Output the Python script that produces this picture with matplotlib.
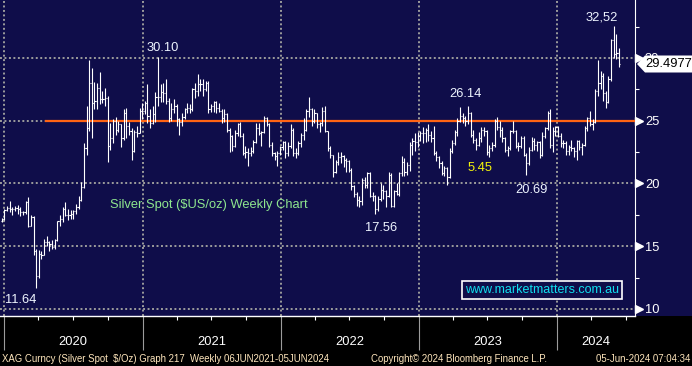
import matplotlib
matplotlib.use("Agg")
import matplotlib.pyplot as plt
import matplotlib.dates as mdates
import matplotlib.transforms as mtransforms
from matplotlib.patches import Polygon, Rectangle
import numpy as np
import pandas as pd

# Bloomberg terminal look
BG_NAVY = "#0f0d4a"
BG_BLACK = "#000000"
GRID_COLOR = "#9c9c9c"
LEVEL_COLOR = "#ff6414"
LABEL_COLOR = "#eef4ff"
TITLE_COLOR = "#8ee68e"
LOW_COLOR = "#f2f20a"
WEB_COLOR = "#10e0f0"
FOOT_COLOR = "#ffe6bc"

W, H, DPI = 692, 366, 100
PLOT_W, PLOT_H, FOOT_H = 635, 316, 50
PX_PER_DAY = 553 / 1461
FONT_SIZE = 9.3
FOOT_SIZE = 6.9

# --- weekly silver bars (week ending Friday, from 20 Dec 2019) ---
first_open = 17.00
closes = [
    17.15, 17.85,
    # 2020
    18.05, 17.95, 17.99, 18.07, 17.98, 17.73, 17.72, 18.50, 16.60, 17.30, 14.60, 12.60, 14.40,
    14.30, 15.30, 15.30, 15.20, 14.90, 15.50, 17.00, 17.20, 18.00, 17.50, 17.50, 17.60, 17.80,
    18.10, 18.70, 19.70, 22.80, 24.40, 28.00, 26.40, 26.60, 27.60, 26.70, 26.70, 26.80, 23.00,
    23.60, 25.00, 24.30, 24.70, 23.60, 25.60, 24.60, 24.20, 22.60, 24.10, 24.00, 25.80, 25.80, 26.40,
    # 2021
    25.40, 24.80, 25.50, 26.90, 26.90, 27.30, 27.20, 26.60, 25.20, 25.90, 26.20, 25.10, 24.90,
    25.30, 25.90, 26.00, 25.90, 27.50, 27.40, 27.90, 27.90, 27.50, 28.00, 25.90, 26.20, 26.50,
    26.00, 25.80, 25.20, 25.50, 24.30, 23.80, 23.00, 24.00, 24.70, 23.80, 22.40, 22.50, 22.40,
    22.60, 23.30, 24.40, 24.00, 24.10, 25.20, 24.70, 23.10, 22.40, 22.20, 22.40, 22.90, 23.30,
    # 2022
    22.40, 23.00, 24.30, 22.40, 22.40, 23.20, 23.90, 24.30, 25.80, 25.90, 25.00, 25.60, 24.70,
    24.80, 25.80, 24.20, 22.80, 22.30, 20.90, 21.70, 22.10, 22.20, 21.90, 21.80, 21.10, 19.80,
    19.20, 18.70, 18.60, 20.30, 19.90, 20.80, 19.00, 19.00, 18.00, 18.80, 19.50, 19.40, 19.00,
    20.70, 18.20, 19.40, 19.20, 20.80, 21.70, 20.90, 21.50, 23.10, 23.40, 23.30, 23.80, 24.00,
    # 2023
    24.00, 24.30, 23.90, 23.60, 22.40, 22.10, 21.60, 20.80, 21.20, 20.50, 22.60, 23.20, 24.10,
    25.00, 25.40, 25.20, 25.00, 25.60, 23.90, 23.50, 23.10, 23.60, 24.30, 24.20, 22.50, 22.80,
    23.10, 25.00, 24.50, 24.30, 23.60, 22.70, 22.80, 24.20, 24.20, 23.00, 23.00, 23.60, 22.30,
    21.60, 22.70, 23.40, 23.10, 23.30, 22.30, 23.80, 24.40, 25.60, 23.10, 24.20, 24.50, 23.80,
    # 2024
    23.20, 23.20, 22.60, 22.90, 22.80, 22.60, 23.40, 22.90, 23.10, 24.40, 25.20, 24.70, 24.90,
    27.40, 28.00, 28.60, 27.20, 26.50, 28.30, 31.40, 30.30, 30.40, 29.4977,
]
highs = [
    17.25, 17.95,
    18.20, 18.60, 18.10, 18.20, 18.30, 18.10, 17.80, 18.60, 18.90, 17.50, 17.40, 14.80, 14.70,
    14.60, 15.60, 15.80, 15.40, 15.50, 15.60, 17.00, 17.50, 18.10, 18.50, 18.00, 17.90, 17.90,
    18.40, 19.00, 20.10, 23.20, 26.20, 29.86, 29.20, 28.10, 28.00, 28.90, 27.40, 27.60, 27.00,
    24.80, 25.10, 25.30, 25.00, 24.70, 25.90, 26.00, 24.90, 24.40, 24.30, 24.60, 26.00, 26.40, 26.60,
    27.90, 25.90, 26.20, 27.30, 30.10, 27.90, 28.00, 28.30, 26.80, 26.40, 26.70, 26.30, 25.20,
    25.60, 26.00, 26.40, 26.30, 27.60, 28.00, 28.70, 28.30, 28.30, 28.20, 28.20, 26.30, 26.60,
    26.60, 26.40, 25.90, 25.90, 25.60, 24.40, 23.90, 24.30, 24.80, 24.90, 24.00, 23.00, 22.80,
    22.90, 23.50, 24.80, 24.80, 24.20, 25.40, 25.30, 24.80, 23.30, 22.50, 22.60, 23.00, 23.40,
    23.40, 23.30, 24.70, 24.40, 22.80, 23.40, 24.00, 25.20, 25.90, 26.90, 26.00, 25.90, 25.60,
    24.90, 26.10, 26.20, 24.20, 23.00, 22.30, 21.90, 22.50, 22.50, 22.30, 22.00, 21.90, 21.20,
    19.90, 19.30, 19.00, 20.40, 20.50, 20.90, 20.90, 19.30, 19.10, 19.00, 20.00, 19.90, 19.50,
    20.90, 20.80, 19.50, 20.00, 20.90, 22.20, 22.00, 21.70, 23.30, 23.60, 24.00, 24.10, 24.20,
    24.50, 24.40, 24.70, 24.20, 24.60, 22.60, 22.20, 21.80, 21.40, 21.30, 22.80, 23.50, 24.30,
    25.20, 26.10, 25.60, 25.40, 26.14, 25.70, 24.30, 23.60, 24.10, 24.50, 24.50, 24.30, 23.10,
    23.30, 25.10, 25.30, 25.00, 24.50, 23.70, 23.00, 24.30, 25.00, 24.30, 23.30, 23.80, 23.80,
    22.40, 22.90, 23.70, 23.60, 23.40, 23.40, 24.10, 24.50, 25.80, 25.90, 24.50, 24.60, 24.60,
    24.00, 23.50, 23.40, 23.10, 23.50, 22.90, 23.50, 23.50, 23.20, 24.60, 25.30, 25.80, 25.10,
    27.50, 29.80, 29.00, 28.80, 27.40, 28.60, 31.50, 32.52, 31.90, 30.80,
]
lows = [
    16.90, 17.10,
    17.80, 17.70, 17.50, 17.80, 17.60, 17.40, 17.50, 17.60, 16.50, 16.60, 14.30, 11.64, 12.50,
    14.00, 14.30, 15.00, 14.60, 14.80, 14.80, 15.40, 16.60, 16.90, 17.40, 17.10, 17.20, 17.20,
    17.60, 18.00, 18.60, 19.60, 22.30, 24.20, 23.60, 25.90, 25.90, 26.30, 26.40, 26.20, 21.70,
    22.70, 23.20, 23.90, 24.10, 22.90, 23.50, 23.60, 23.90, 21.90, 22.50, 23.70, 24.00, 25.10, 25.50,
    24.80, 24.40, 24.70, 24.90, 26.20, 26.50, 26.50, 26.30, 24.90, 25.00, 25.60, 24.60, 23.90,
    24.60, 25.10, 25.60, 25.60, 25.80, 26.80, 27.00, 27.40, 27.00, 27.40, 25.60, 25.70, 25.70,
    25.60, 25.70, 24.80, 24.90, 24.10, 22.50, 22.60, 22.90, 23.80, 23.70, 22.30, 22.00, 21.40,
    22.20, 22.40, 23.20, 23.90, 23.00, 24.00, 24.60, 22.90, 22.20, 21.90, 21.40, 22.30, 22.70,
    22.00, 22.20, 22.80, 22.20, 22.00, 22.30, 22.90, 23.50, 24.20, 25.30, 24.60, 24.80, 24.40,
    24.10, 24.60, 24.10, 22.60, 22.00, 20.50, 20.80, 21.50, 21.60, 21.30, 20.90, 20.90, 19.50,
    18.90, 18.20, 18.10, 18.30, 19.60, 19.60, 18.90, 18.60, 17.56, 17.80, 18.60, 18.80, 18.10,
    18.90, 18.10, 18.10, 19.10, 19.00, 20.60, 20.60, 20.70, 21.00, 22.30, 22.60, 22.90, 23.40,
    23.20, 23.30, 23.40, 23.30, 22.30, 21.80, 21.20, 20.70, 20.60, 19.90, 20.40, 22.40, 23.10,
    23.80, 24.90, 24.80, 24.60, 24.70, 23.70, 23.20, 22.70, 23.00, 23.30, 23.80, 22.30, 22.10,
    22.60, 22.90, 24.30, 23.70, 23.30, 22.50, 22.20, 22.70, 24.00, 22.80, 22.60, 22.80, 22.20,
    20.69, 21.50, 22.60, 22.70, 22.60, 22.00, 22.20, 23.60, 24.30, 22.80, 22.50, 23.80, 23.70,
    22.90, 22.80, 22.30, 22.30, 22.60, 22.10, 21.90, 22.70, 22.30, 23.00, 24.20, 24.60, 24.30,
    24.80, 27.00, 27.50, 26.60, 26.00, 26.40, 28.20, 30.00, 29.90, 29.30,
]

level = 25.0
years = [2020, 2021, 2022, 2023, 2024]
y_major = [10, 15, 20, 25, 30]
y_minor = [12.5, 17.5, 22.5, 27.5, 32.5]

# annotations: (text, colour, x px, y px) inside the plot box
callouts = [
    ("30.10", LABEL_COLOR, 163, 48),
    ("26.14", LABEL_COLOR, 465, 94),
    ("32,52", LABEL_COLOR, 602, 17),
    ("5.45", LOW_COLOR, 480, 168),
    ("20.69", LABEL_COLOR, 531, 190),
    ("17.56", LABEL_COLOR, 381, 228),
    ("11.64", LABEL_COLOR, 21, 300),
]

plt.rcParams["font.family"] = ["Liberation Sans", "DejaVu Sans"]

fig = plt.figure(figsize=(W / DPI, H / DPI), dpi=DPI, facecolor=BG_BLACK)
fig.add_artist(Rectangle((0, FOOT_H / H), 1, PLOT_H / H, transform=fig.transFigure,
                         facecolor=BG_NAVY, edgecolor="none", zorder=-5))
ax = fig.add_axes([0, FOOT_H / H, PLOT_W / W, PLOT_H / H])
ax.set_facecolor(BG_NAVY)

dates = pd.date_range("2019-12-20", periods=len(closes), freq="W-FRI")
c = np.array(closes)
o = np.concatenate([[first_open], c[:-1]])
hi = np.maximum(np.array(highs), np.maximum(o, c))
lo = np.minimum(np.array(lows), np.minimum(o, c))

# bars sit about six days to the right of the year lines in the original
x = mdates.date2num(dates) + 6
tick = 3.0
ax.vlines(x, lo, hi, color="white", linewidth=0.8, zorder=4)
ax.hlines(o, x - tick, x, color="white", linewidth=0.8, zorder=4)
ax.hlines(c, x, x + tick, color="white", linewidth=0.8, zorder=4)

jan1 = mdates.date2num(pd.Timestamp("2020-01-01"))
x0 = jan1 - 4 / PX_PER_DAY
x1 = jan1 + (PLOT_W - 4) / PX_PER_DAY
ax.set_xlim(x0, x1)
ax.set_ylim(9.44, 34.62)

# orange reference level
ax.axhline(level, xmin=46 / PLOT_W, xmax=1, color=LEVEL_COLOR, linewidth=1.6, zorder=3)

# grid + ticks
year_starts = [mdates.date2num(pd.Timestamp(f"{y}-01-01")) for y in years]
quarters = [mdates.date2num(pd.Timestamp(f"{y}-{m:02d}-01")) for y in years for m in (4, 7, 10)]
quarters = [q for q in quarters if q < x1]
ax.set_xticks(year_starts)
ax.set_xticks(quarters, minor=True)
ax.set_yticks(y_major)
ax.set_yticks(y_minor, minor=True)
ax.set_axisbelow(True)
ax.grid(True, which="major", color=GRID_COLOR, linestyle=(0, (1, 1.3)), linewidth=1.4)

ax.tick_params(axis="x", which="major", length=24.5, width=0.8, color=GRID_COLOR,
               labelbottom=False)
ax.tick_params(axis="x", which="minor", length=3, width=0.8, color="white")
ax.yaxis.tick_right()
ax.tick_params(axis="y", which="major", length=0, pad=7.2, labelsize=FONT_SIZE,
               labelcolor="white")
ax.tick_params(axis="y", which="minor", length=3, width=0.8, color="white")

for side in ("top", "left"):
    ax.spines[side].set_visible(False)
ax.spines["right"].set_color("white")
ax.spines["right"].set_linewidth(0.8)
ax.spines["bottom"].set_color("white")
ax.spines["bottom"].set_linewidth(1.0)

# white arrow heads at the labelled price levels
right_edge = mtransforms.blended_transform_factory(ax.transAxes, ax.transData)
ax.plot(np.full(len(y_major), 1 + 4 / PLOT_W), y_major, linestyle="none", marker=">",
        markersize=6, color="white", transform=right_edge, clip_on=False)

# year labels centred on the visible part of each year
below = mtransforms.blended_transform_factory(ax.transData, ax.transAxes)
for y, start in zip(years, year_starts):
    left = max(start, x0)
    right = min(mdates.date2num(pd.Timestamp(f"{y + 1}-01-01")), x1)
    ax.text((left + right) / 2, 1 - 342 / PLOT_H, str(y), transform=below, ha="center",
            va="center", color="white", fontsize=FONT_SIZE, clip_on=False)


def px(xp, yp):
    return xp / PLOT_W, 1 - yp / PLOT_H


for text, color, xp, yp in callouts:
    ax.text(*px(xp, yp), text, transform=ax.transAxes, ha="center", va="center",
            color=color, fontsize=FONT_SIZE, zorder=6)

ax.text(*px(110, 205), "Silver Spot ($US/oz) Weekly Chart", transform=ax.transAxes,
        ha="left", va="center", color=TITLE_COLOR, fontsize=FONT_SIZE, zorder=6)
ax.text(*px(542, 290), "www.marketmatters.com.au", transform=ax.transAxes, ha="center",
        va="center", color=WEB_COLOR, fontsize=9, zorder=6,
        bbox=dict(boxstyle="square,pad=0.25", facecolor=BG_NAVY, edgecolor="white",
                  linewidth=1.2))

# last price flag on the right axis
flag = [(637, 64), (645, 55.5), (692, 55.5), (692, 72.5), (645, 72.5)]
fig.add_artist(Polygon([(a / W, 1 - b / H) for a, b in flag], closed=True,
                       transform=fig.transFigure, facecolor="white", edgecolor="none",
                       zorder=5))
fig.text(645 / W, 1 - 64 / H, f"{closes[-1]:.4f}", ha="left", va="center",
         color="black", fontsize=FONT_SIZE, zorder=6)

# footer
foot_y = 1 - 359 / H
fig.text(2 / W, foot_y, "XAG Curncy (Silver Spot  $/Oz) Graph 217  Weekly 06JUN2021-05JUN2024",
         ha="left", va="center", color=FOOT_COLOR, fontsize=FOOT_SIZE)
fig.text(371 / W, foot_y, "Copyright\u00a9 2024 Bloomberg Finance L.P.", ha="left",
         va="center", color=FOOT_COLOR, fontsize=FOOT_SIZE)
fig.text(690 / W, foot_y, "05-Jun-2024 07:04:34", ha="right", va="center",
         color=FOOT_COLOR, fontsize=FOOT_SIZE)

fig.savefig("out.png", dpi=DPI, facecolor=BG_BLACK)
plt.close(fig)
